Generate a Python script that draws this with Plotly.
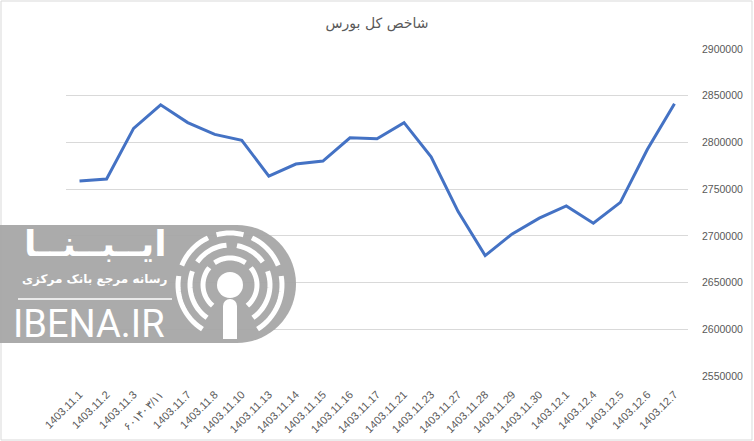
import math
import plotly.graph_objects as go

categories = [
    "1403.11.1", "1403.11.2", "1403.11.3", "۶۰۱۴۰۳/۱۱", "1403.11.7", "1403.11.8",
    "1403.11.10", "1403.11.13", "1403.11.14", "1403.11.15", "1403.11.16", "1403.11.17",
    "1403.11.21", "1403.11.23", "1403.11.27", "1403.11.28", "1403.11.29", "1403.11.30",
    "1403.12.1", "1403.12.4", "1403.12.5", "1403.12.6", "1403.12.7",
]
index_values = [
    2758600, 2760800, 2815000, 2840300, 2821200, 2808600, 2802200, 2764000,
    2776900, 2780100, 2805000, 2804000, 2821200, 2784700, 2726000, 2678900,
    2702100, 2718900, 2732000, 2713600, 2735900, 2792700, 2841400,
]
y_ticks = [2550000, 2600000, 2650000, 2700000, 2750000, 2800000, 2850000, 2900000]
title_text = "شاخص کل بورس"

W, H = 754, 441
ML, MR, MT, MB = 66, 66, 49, 65
PW, PH = W - ML - MR, H - MT - MB


def px(x):
    return (x - ML) / PW


def py(y):
    return (H - MB - y) / PH


fig = go.Figure()
fig.add_trace(go.Scatter(
    x=categories, y=index_values, mode="lines",
    line=dict(color="#4472C4", width=3), hoverinfo="x+y", showlegend=False,
))

shapes = []
# outer chart border
shapes.append(dict(type="rect", xref="paper", yref="paper",
                   x0=px(1), x1=px(752), y0=py(440), y1=py(1),
                   line=dict(color="#D9D9D9", width=1), layer="below"))

# watermark logo (approximation)
gray = "#A6A6A6"
cx, cy, r = 237, 284, 59
pts = [(0, cy - r), (cx, cy - r)]
for i in range(1, 36):
    a = -math.pi / 2 + math.pi * i / 36
    pts.append((cx + r * math.cos(a), cy + r * math.sin(a)))
pts += [(cx, cy + r), (0, cy + r)]
path = "M " + " L ".join(f"{px(x):.5f},{py(y):.5f}" for x, y in pts) + " Z"
shapes.append(dict(type="path", xref="paper", yref="paper", path=path,
                   fillcolor=gray, line=dict(width=0), layer="above", opacity=0.95))


def arc_path(ccx, ccy, rad, a0, a1, n=16):
    p = []
    for i in range(n + 1):
        a = math.radians(a0 + (a1 - a0) * i / n)
        p.append((ccx + rad * math.cos(a), ccy - rad * math.sin(a)))
    return "M " + " L ".join(f"{px(x):.5f},{py(y):.5f}" for x, y in p)


icx, icy = 230, 285
ring_spans = {
    27: [(-50, 40), (55, 125), (140, 230)],
    40: [(-55, 20), (35, 80), (95, 145), (160, 235)],
    52: [(-58, 10), (22, 65), (75, 105), (115, 158), (170, 238)],
}
for rad, spans in ring_spans.items():
    for a0, a1 in spans:
        shapes.append(dict(type="path", xref="paper", yref="paper",
                           path=arc_path(icx, icy, rad, a0, a1),
                           line=dict(color="white", width=5), layer="above"))
shapes.append(dict(type="circle", xref="paper", yref="paper",
                   x0=px(icx - 13), x1=px(icx + 13), y0=py(icy + 13), y1=py(icy - 13),
                   fillcolor="white", line=dict(width=0), layer="above"))
shapes.append(dict(type="rect", xref="paper", yref="paper",
                   x0=px(icx - 7), x1=px(icx + 7), y0=py(339), y1=py(306),
                   fillcolor="white", line=dict(width=0), layer="above"))
shapes.append(dict(type="circle", xref="paper", yref="paper",
                   x0=px(icx - 7), x1=px(icx + 7), y0=py(313), y1=py(299),
                   fillcolor="white", line=dict(width=0), layer="above"))
shapes.append(dict(type="line", xref="paper", yref="paper",
                   x0=px(18), x1=px(172), y0=py(299), y1=py(299),
                   line=dict(color="white", width=1.5), layer="above"))

annotations = [
    dict(text="ایــبــنــا", xref="paper", yref="paper", x=px(95), y=py(243),
         showarrow=False, font=dict(family="DejaVu Sans", size=36, color="white", weight="bold"),
         xanchor="center", yanchor="middle"),
    dict(text="رسانه مرجع بانک مرکزی", xref="paper", yref="paper", x=px(95), y=py(279),
         showarrow=False, font=dict(family="DejaVu Sans", size=12, color="white", weight="bold"),
         xanchor="center", yanchor="middle"),
    dict(text="IBENA.IR", xref="paper", yref="paper", x=px(89), y=py(324),
         showarrow=False, font=dict(family="Roboto", size=38, color="white"),
         xanchor="center", yanchor="middle"),
]

fig.update_layout(
    width=W, height=H,
    margin=dict(l=ML, r=MR, t=MT, b=MB),
    paper_bgcolor="white", plot_bgcolor="white",
    title=dict(text=title_text, x=0.5, xref="paper", y=1 - 23 / H, yanchor="middle",
               xanchor="center",
               font=dict(family="DejaVu Sans", size=14, color="#595959")),
    xaxis=dict(type="category", range=[-0.5, len(categories) - 0.5], tickangle=-45,
               showgrid=False, showline=False, ticklabelstandoff=9,
               ticks="", tickfont=dict(family="Liberation Sans", size=11, color="#595959"),
               zeroline=False, automargin=False),
    yaxis=dict(side="right", range=[2550000, 2900000], tickvals=y_ticks,
               ticktext=[str(v) for v in y_ticks], showgrid=True, gridcolor="#D9D9D9",
               gridwidth=1, zeroline=False, showline=False, ticks="",
               ticklabelstandoff=13, automargin=False,
               tickfont=dict(family="Liberation Sans", size=10.5, color="#595959")),
    shapes=shapes, annotations=annotations,
)

fig.write_html("out.html", config={"displayModeBar": False},
               post_script="document.body.style.margin='0px';document.body.style.overflow='hidden';")
